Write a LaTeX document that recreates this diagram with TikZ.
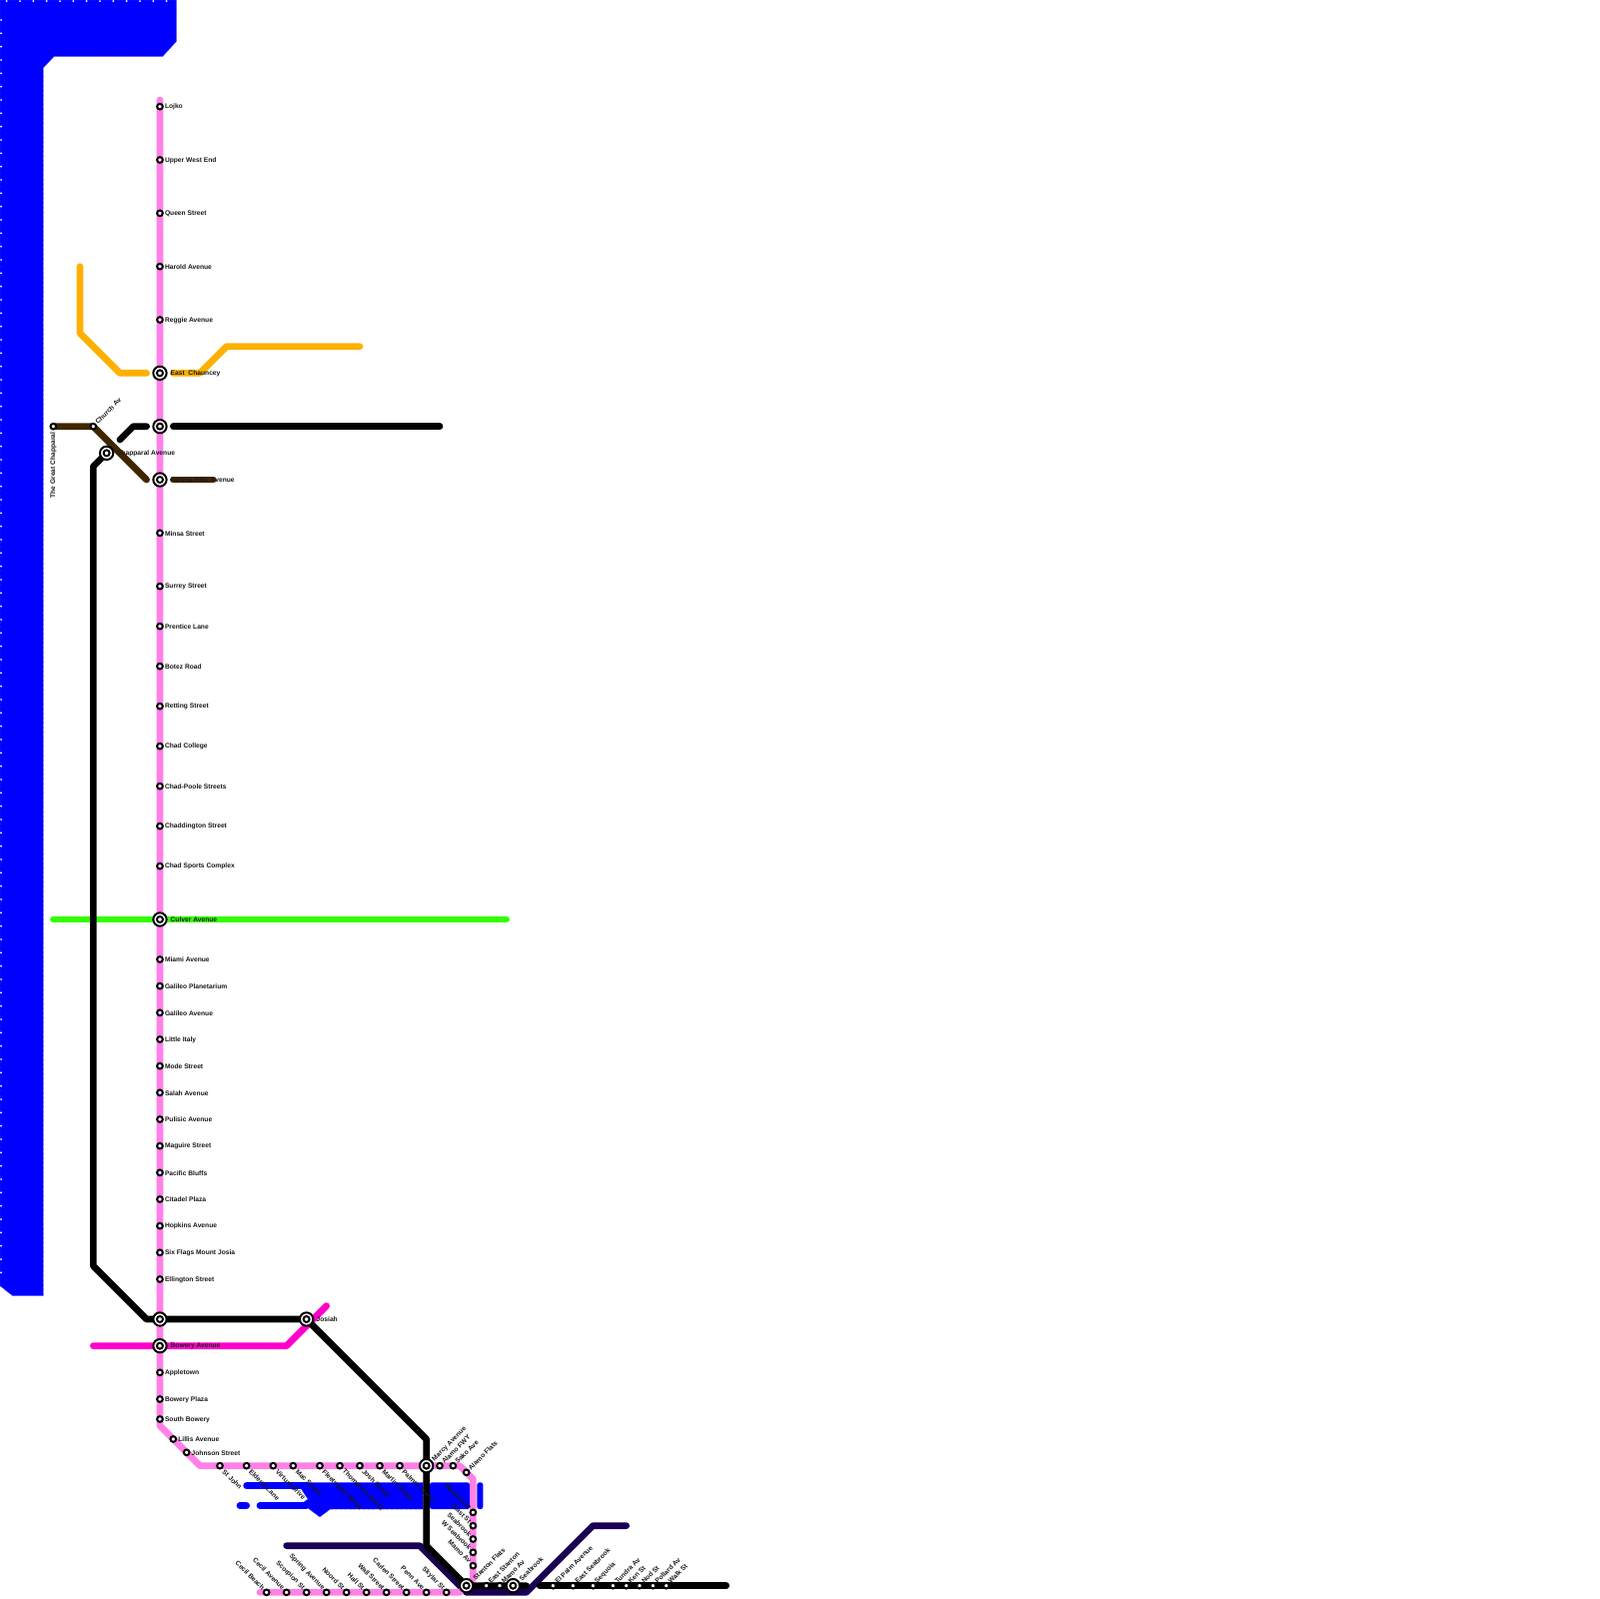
\documentclass[tikz,border=0pt]{standalone}
\usepackage{fontspec}
\setmainfont{Liberation Sans}
\usetikzlibrary{backgrounds}
\definecolor{pinkl}{HTML}{FF80E6}
\definecolor{magl}{HTML}{FF00CC}
\definecolor{oranl}{HTML}{FFB000}
\definecolor{brownl}{HTML}{402600}
\definecolor{greenl}{HTML}{33FF00}
\definecolor{navyl}{HTML}{1A0055}
\definecolor{lakeb}{HTML}{0000FF}
\definecolor{lakee}{HTML}{6666FF}
\tikzset{
 metro/.style={line width=1mm,line cap=round,line join=round},
 lake/.style={fill=lakeb,draw=lakee,line width=0.2pt,dash pattern=on 1.2pt off 0.8pt},
 lakeplain/.style={fill=lakeb,rounded corners=0.35mm},
 dots/.style={white,line width=0.9pt,line cap=round,dash pattern=on 0pt off 2mm},
 stn/.style={circle,draw=black,fill=white,line width=0.85pt,minimum size=0.85mm,inner sep=0pt},
 ichgout/.style={circle,draw=black,fill=white,line width=0.85pt,minimum size=2mm,inner sep=0pt},
 ichgin/.style={circle,draw=black,fill=white,line width=0.85pt,minimum size=0.9mm,inner sep=0pt},
 lab/.style={font=\bfseries\fontsize{2.85}{3.4}\selectfont,text=black!90,inner sep=0pt,outer sep=0pt},
}
\newcommand{\stR}[3]{\node[stn] (#1) at (#2) {};\node[lab,anchor=west] (#1l) at ([xshift=0.75mm,yshift=-0.08mm]#1.center) {#3};}
\newcommand{\stSE}[3]{\node[stn] (#1) at (#2) {};\node[lab,anchor=west,rotate=-45] (#1l) at ([xshift=0.55mm,yshift=-0.75mm]#1.center) {#3};}
\newcommand{\stNE}[3]{\node[stn] (#1) at (#2) {};\node[lab,anchor=west,rotate=45] (#1l) at ([xshift=0.47mm,yshift=0.53mm]#1.center) {#3};}
\newcommand{\stNW}[3]{\node[stn] (#1) at (#2) {};\node[lab,anchor=east,rotate=-45] (#1l) at ([xshift=-0.45mm,yshift=0.55mm]#1.center) {#3};}
\newcommand{\ichgn}[2]{\node[ichgout] (#1) at (#2) {};\node[ichgin] (#1i) at (#2) {};}
\begin{document}
\begin{tikzpicture}[x=2mm,y=-2mm]
\useasboundingbox (0,0) rectangle (120,120);
\clip (0,0) rectangle (120,120);
\stR{lojko}{12,8}{Lojko}
\stR{uwe}{12,12}{Upper West End}
\stR{queen}{12,16}{Queen Street}
\stR{harold}{12,20}{Harold Avenue}
\stR{reggie}{12,24}{Reggie Avenue}
\ichgn{chauncey}{12,28}
\node[lab,anchor=west] (chaunceyl) at (12.8,28) {East \ Chauncey};
\ichgn{blackup}{12,32}
\ichgn{serena}{12,36}
\node[lab,anchor=west] (serenal) at (12.8,36) {Serena Hills Avenue};
\stR{minsa}{12,40}{Minsa Street}
\stR{surrey}{12,44}{Surrey Street}
\stR{prentice}{12,47}{Prentice Lane}
\stR{botez}{12,50}{Botez Road}
\stR{retting}{12,53}{Retting Street}
\stR{chadc}{12,56}{Chad College}
\stR{chadp}{12,59}{Chad-Poole Streets}
\stR{chadd}{12,62}{Chaddington Street}
\stR{chads}{12,65}{Chad Sports Complex}
\ichgn{culver}{12,69}
\node[lab,anchor=west] (culverl) at (12.8,69) {Culver Avenue};
\stR{miami}{12,72}{Miami Avenue}
\stR{galp}{12,74}{Galileo Planetarium}
\stR{gala}{12,76}{Galileo Avenue}
\stR{little}{12,78}{Little Italy}
\stR{mode}{12,80}{Mode Street}
\stR{salah}{12,82}{Salah Avenue}
\stR{pulisic}{12,84}{Pulisic Avenue}
\stR{maguire}{12,86}{Maguire Street}
\stR{pacific}{12,88}{Pacific Bluffs}
\stR{citadel}{12,90}{Citadel Plaza}
\stR{hopkins}{12,92}{Hopkins Avenue}
\stR{six}{12,94}{Six Flags Mount Josia}
\stR{ellington}{12,96}{Ellington Street}
\ichgn{blacklow}{12,99}
\ichgn{bowery}{12,101}
\node[lab,anchor=west] (boweryl) at (12.8,101) {Bowery Avenue};
\stR{appletown}{12,103}{Appletown}
\stR{bplaza}{12,105}{Bowery Plaza}
\stR{sbowery}{12,106.5}{South Bowery}
\stR{lillis}{13,108}{Lillis Avenue}
\stR{johnson}{14,109}{Johnson Street}
\stSE{stjohn}{16.5,110}{St John}
\stSE{elderta}{18.5,110}{Elderta Lane}
\stSE{virtual}{20.5,110}{Virtual Drive}
\stSE{mac}{22,110}{Mac Street}
\stSE{fleet}{24,110}{Fleetwood Street}
\stSE{thompson}{25.5,110}{Thompson Street}
\stSE{josh}{27,110}{Josh Street}
\stSE{marlin}{28.5,110}{Marlin Street}
\stSE{palmer}{30,110}{Palmer Street}
\ichgn{marcy}{32,110}
\node[lab,anchor=west,rotate=45] (marcyl) at (32.53,109.57) {Marcy Avenue};
\stNE{fwy}{33,110}{Alamo FWY}
\stNE{sako}{34,110}{Sako Ave}
\stNE{aflats}{35,110.5}{Alamo Flats}
\stNW{water}{35.5,113.5}{Waterfront}
\stNW{eastst}{35.5,114.5}{East St}
\stNW{seab}{35.5,115.5}{Seabrook}
\stNW{wseab}{35.5,116.5}{W Seabrook}
\stNW{mamoa}{35.5,117.5}{Mamo Av}
\stNW{cbeach}{20,119.5}{Cecil Beach}
\stNW{cave}{21.5,119.5}{Cecil Avenue}
\stNW{scorp}{23,119.5}{Scorpion St}
\stNW{spring}{24.5,119.5}{Spring Avenue}
\stNW{noord}{26,119.5}{Noord St}
\stNW{hall}{27.5,119.5}{Hall St}
\stNW{wall}{29,119.5}{Wall Street}
\stNW{carlen}{30.5,119.5}{Carlen Street}
\stNW{penn}{32,119.5}{Penn Ave}
\stNW{skylar}{33.5,119.5}{Skylar St}
\ichgn{stanton}{35,119}
\node[lab,anchor=west,rotate=45] (stantonl) at (35.58,118.5) {Stanton Flats};
\stNE{estanton}{36.5,119}{East Stanton}
\stNE{mamob}{37.5,119}{Mamo Av}
\ichgn{seabrook}{38.5,119}
\node[lab,anchor=west,rotate=45] (seabrookl) at (39.05,118.55) {Seabrook};
\stNE{elpalm}{41.5,119}{El Palm Avenue}
\stNE{eseab}{43,119}{East Seabrook}
\stNE{sequoia}{44.5,119}{Sequoia}
\stNE{tundra}{46,119}{Tundra Av}
\stNE{ken}{47,119}{Ken St}
\stNE{nod}{48,119}{Nod St}
\stNE{pollard}{49,119}{Pollard Av}
\stNE{walk}{50,119}{Walk St}
\ichgn{chap}{8,34}
\node[lab,anchor=west] (chapl) at (8.75,34) {Chapparal Avenue};
\stNE{church}{7,32}{Church Av}
\node[stn] (great) at (4,32) {};
\node[lab,anchor=east,rotate=90] (greatl) at (4,32.45) {The Great Chapparal};
\ichgn{josiah}{23,99}
\node[lab,anchor=west] (josiahl) at (23.75,99) {Josiah};
\foreach \n/\p in {pinkb1/{12,107},pinkb2/{15,110},pinkb3/{34.5,110},pinkb4/{35.5,111},pinkb5/{35.5,118.5},pinkb6/{34.5,119.5},
 pinks/{12,7.5},pinke/{19.5,119.5},
 orA/{6,20},orB/{6,25},orC/{9,28},orD/{11,28},orE/{13,28},orF/{15,28},orG/{17,26},orH/{27,26},
 brC/{11,36},brD/{13,36},brE/{16,36},
 blA/{13,32},blB/{33,32},blC/{9,33},blD/{10,32},blE/{11,32},blF/{7,35},blG/{7,95},blH/{11,99},blI/{32,108},blJ/{32,116},blK/{39.5,119},blL/{40.5,119},blM/{54.5,119},
 grA/{4,69},grB/{38,69},
 maA/{7,101},maB/{21.5,101},maC/{24.5,98},
 naA/{21.5,116},naB/{31.5,116},naC/{35,119.5},naD/{39.5,119.5},naE/{44.5,114.5},naF/{47,114.5}}
 {\coordinate (\n) at (\p);}
\begin{pgfonlayer}{background}
 \path[lake] (0,0)--(13.25,0)--(13.25,3.1)--(12.2,4.25)--(4.05,4.25)--(3.25,5.1)--(3.25,97.25)--(0.95,97.25)--(0,96.5)--cycle;
 \draw[dots] (0.08,1.5)--(0.08,96);
 \draw[dots] (0.5,0.08)--(12.6,0.08);
 \path[lake] (22.6,111.25)--(31.75,111.25)--(31.75,113.25)--(24.8,113.25)--(24,113.85)--(23.2,113.25)--(22.75,112.75)--(23.1,112.5)--(22.6,111.75)--cycle;
 \path[lakeplain] (32.25,111.25)--(35.25,111.25)--(35.25,113.25)--(32.25,113.25)--cycle;
 \path[lakeplain] (35.8,111.25)--(36.25,111.25)--(36.25,113.25)--(35.8,113.25)--cycle;
 \draw[metro,lakeb] (18.5,111.5)--(23,111.5);
 \draw[metro,lakeb] (19.5,113)--(23,113);
 \draw[metro,lakeb] (18,113)--(18.5,113);
 \draw[metro,navyl] (naA)--(naB)--(naC)--(naD)--(naE)--(naF);
 \draw[metro,pinkl] (pinks)--(lojko.center)--(sbowery.center)--(pinkb1)--(pinkb2)--(pinkb3)--(pinkb4)--(pinkb5)--(pinkb6)--(pinke);
 \draw[metro,greenl] (grA)--(culver.center)--(grB);
 \draw[metro,magl] (maA)--(bowery.center)--(maB)--(maC);
 \draw[metro,oranl] (orA)--(orB)--(orC)--(orD);
 \draw[metro,oranl] (orE)--(orF)--(orG)--(orH);
 \draw[metro,brownl] (great.center)--(church.center)--(brC);
 \draw[metro,brownl] (brD)--(brE);
 \draw[metro,black] (blA)--(blB);
 \draw[metro,black] (blC)--(blD)--(blE);
 \draw[metro,black] (chap.center)--(blF)--(blG)--(blH)--(blacklow.center)--(josiah.center)--(blI)--(blJ)--(stanton.center)--(seabrook.center)--(blK);
 \draw[metro,black] (blL)--(blM);
\end{pgfonlayer}
\end{tikzpicture}
\end{document}
